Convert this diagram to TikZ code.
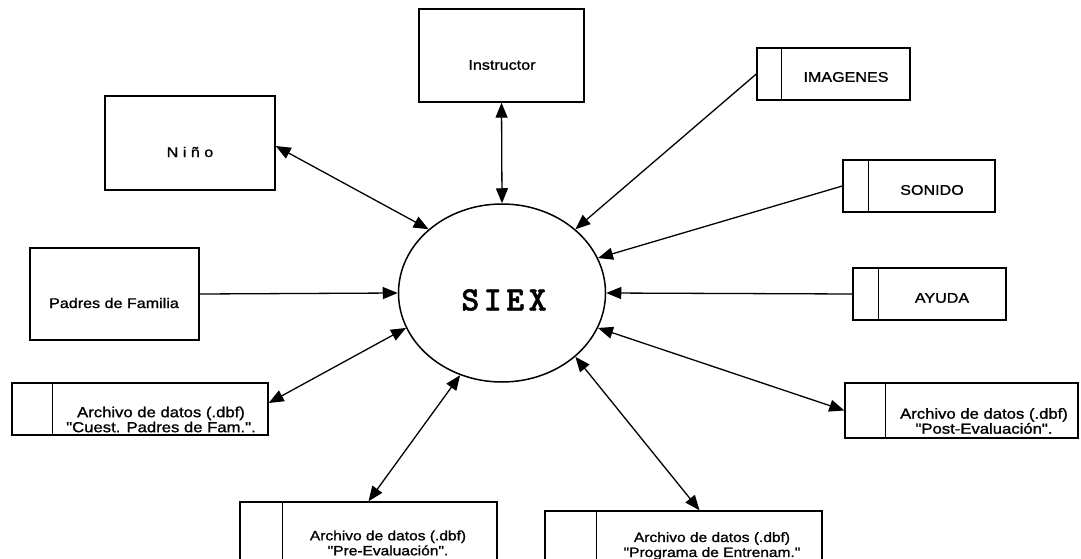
\documentclass[tikz,border=0pt]{standalone}
\usepackage{fontspec}
\setmainfont{Liberation Sans}
\newfontfamily\labfont{Liberation Sans}[FakeStretch=1.15,FakeBold=1.2]
\newfontfamily\siexfont{lmmonolt10-bold.otf}[FakeBold=1.5]
\usetikzlibrary{shapes.geometric,arrows.meta}

\begin{document}
\begin{tikzpicture}[x=1pt,y=-1pt,
  entity/.style={draw, line width=1.4pt, rectangle, inner sep=0pt},
  store/.style={draw, line width=1.4pt, rectangle, inner sep=0pt},
  lbl/.style={inner sep=0pt, align=center, font=\labfont\fontsize{14}{15}\selectfont},
  lblbig/.style={lbl, font=\labfont\fontsize{14.5}{15}\selectfont},
  lblsmall/.style={lbl, font=\labfont\fontsize{13.5}{15}\selectfont},
  tip/.tip={Triangle[length=15pt,width=12pt]},
  flow/.style={line width=1.3pt, -tip},
  duplex/.style={line width=1.3pt, tip-tip},
  divider/.style={line width=1.4pt},
]
\useasboundingbox (0,0) rectangle (1081,559);
\fill[white] (0,0) rectangle (1081,559);
\clip (0,0) rectangle (1081,559);

% central process
\node[draw, ellipse, line width=1.5pt, inner sep=0pt,
      minimum width=207pt, minimum height=178pt] (siex) at (502,293) {};
\node[inner sep=0pt, font=\siexfont\fontsize{34}{34}\selectfont]
      (siexT) at (504,300) {S\kern4.6pt I\kern4.6pt E\kern4.6pt X};

% external entities
\node[entity, minimum width=170pt, minimum height=94pt] (nino) at (190,143) {};
\node[lbl] (ninoT) at (190,152) {N i ñ o};

\node[entity, minimum width=165pt, minimum height=93pt] (instr) at (501.5,55.5) {};
\node[lbl] (instrT) at (502,65) {Instructor};

\node[entity, minimum width=169pt, minimum height=92pt] (padres) at (114.5,294) {};
\node[lbl] (padresT) at (114,303) {Padres de Familia};

% data stores (box with a left compartment)
\node[store, minimum width=153pt, minimum height=52pt] (imag) at (833.5,74) {};
\draw[divider] ([xshift=25pt]imag.north west) -- ([xshift=25pt]imag.south west);
\node[lbl] (imagT) at (846,77) {IMAGENES};

\node[store, minimum width=152pt, minimum height=52pt] (son) at (919,186) {};
\draw[divider] ([xshift=26pt]son.north west) -- ([xshift=26pt]son.south west);
\node[lbl] (sonT) at (932,190) {SONIDO};

\node[store, minimum width=153pt, minimum height=52pt] (ayuda) at (929.5,294) {};
\draw[divider] ([xshift=26pt]ayuda.north west) -- ([xshift=26pt]ayuda.south west);
\node[lbl] (ayudaT) at (942,298) {AYUDA};

\node[store, minimum width=256pt, minimum height=52pt] (cuest) at (140,409) {};
\draw[divider] ([xshift=41pt]cuest.north west) -- ([xshift=41pt]cuest.south west);
\node[lblbig] (cuestT) at (161,419.5) {Archivo de datos (.dbf)\\"Cuest. Padres de Fam.".};

\node[store, minimum width=233pt, minimum height=55pt] (post) at (961.5,410.5) {};
\draw[divider] ([xshift=41pt]post.north west) -- ([xshift=41pt]post.south west);
\node[lblbig] (postT) at (984,421) {Archivo de datos (.dbf)\\"Post-Evaluación".};

\node[store, minimum width=257pt, minimum height=60pt] (pre) at (368.5,532) {};
\draw[divider] ([xshift=43pt]pre.north west) -- ([xshift=43pt]pre.south west);
\node[lblsmall] (preT) at (388,543) {Archivo de datos (.dbf)\\"Pre-Evaluación".};

\node[store, minimum width=277pt, minimum height=51pt] (prog) at (683.5,536.5) {};
\draw[divider] ([xshift=52pt]prog.north west) -- ([xshift=52pt]prog.south west);
\node[lblsmall] (progT) at (712,546) {Archivo de datos (.dbf)\\"Programa de Entrenam."};

% data flows
\draw[duplex] ([yshift=-3pt]nino.east) -- (siex.139);
\draw[duplex] (instr.south) -- (siex.90);
\draw[flow] (imag.west) -- (siex.41);
\draw[flow] (son.west) -- (siex.20);
\draw[flow] (ayuda.west) -- (siex.0);
\draw[flow] (padres.east) -- (siex.180);
\draw[duplex] ([yshift=6pt]cuest.east) -- (siex.-160);
\draw[duplex] (pre.north) -- (siex.-117);
\draw[duplex] ([xshift=16pt]prog.north) -- (siex.-41);
\draw[duplex] (post.west) -- (siex.-20);
\end{tikzpicture}
\end{document}
